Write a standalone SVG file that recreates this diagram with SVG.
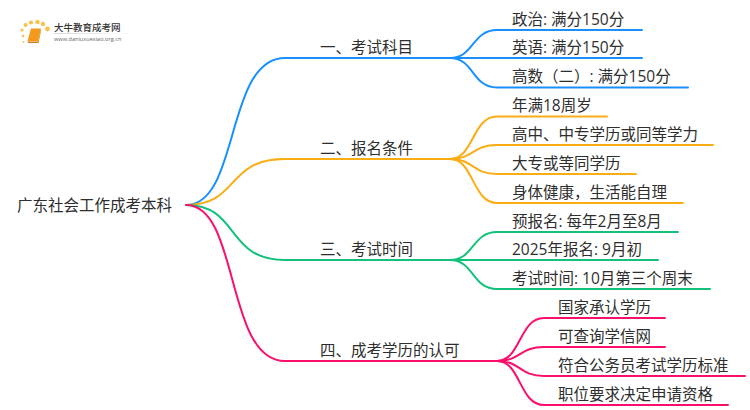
<svg xmlns="http://www.w3.org/2000/svg" width="750" height="410" viewBox="0 0 750 410">
<defs><linearGradient id="fade"><stop offset="0" stop-color="#ccc"/><stop offset="1" stop-color="#fff"/></linearGradient></defs>
<style>
text{font-family:"Open Sans","Noto Sans CJK SC",sans-serif;font-size:15.5px;fill:#2e2e2e}
.c{fill:none;stroke-width:2;stroke-linecap:round}
.b{stroke:#1890ff}.o{stroke:#faad14}.g{stroke:#13c27a}.r{stroke:#fa0f6c}
</style>
<rect width="750" height="410" fill="#fff"/>
<g id="logo">
<g fill="#fbc04a"><circle cx="23" cy="36" r="1.300"/><circle cx="22" cy="30" r="1.600"/><circle cx="25.500" cy="25" r="2"/><circle cx="31" cy="22.500" r="2.100"/><circle cx="37.500" cy="22" r="2.200"/><circle cx="43" cy="24" r="2.200"/><circle cx="47.500" cy="29" r="2.400"/><circle cx="23.500" cy="42" r="1"/></g>
<path d="M31 28.500H41L38 41H27.500Z" fill="#f39a1c"/><path d="M27.500 41.500H38L41 29V31L38.500 43H28Z" fill="#d9780f"/>
<rect x="54" y="33" width="80" height="0.800" fill="url(#fade)"/>
<text x="54" y="31" style="font-size:9.500px;fill:#333;font-weight:500">大牛教育成考网</text>
<text x="54" y="41" style="font-size:5.600px;fill:#666">www.daniuxuexiao.org.cn</text>
</g>
<g id="connectors">
<path class="c b" d="M186 205C240 205 225 58 285 58H450"/>
<path class="c o" d="M186 205C240 205 225 159 285 159H450"/>
<path class="c g" d="M186 205C240 205 225 260 285 260H450"/>
<path class="c r" d="M186 205C240 205 225 361 285 361H497"/>
<path class="c b" d="M450 58C474 58 472 30 497 30H642"/>
<path class="c b" d="M450 58H642"/>
<path class="c b" d="M450 58C474 58 472 87.500 497 87.500H688"/>
<path class="c o" d="M450 159C474 159 472 116.500 497 116.500H607"/>
<path class="c o" d="M450 159C474 159 472 145 497 145H713"/>
<path class="c o" d="M450 159C474 159 472 174 497 174H636"/>
<path class="c o" d="M450 159C474 159 472 203 497 203H683"/>
<path class="c g" d="M450 260C474 260 472 232 497 232H678"/>
<path class="c g" d="M450 260H658"/>
<path class="c g" d="M450 260C474 260 472 289 497 289H710"/>
<path class="c r" d="M497 361C521 361 519 318 544 318H665"/>
<path class="c r" d="M497 361C521 361 519 347 544 347H665"/>
<path class="c r" d="M497 361C521 361 519 376 544 376H745"/>
<path class="c r" d="M497 361C521 361 519 405 544 405H728"/>
</g>
<g id="root"><text x="17" y="211">广东社会工作成考本科</text></g>
<g id="b1"><text x="320" y="53">一、考试科目</text></g>
<g id="b2"><text x="320" y="154">二、报名条件</text></g>
<g id="b3"><text x="320" y="255">三、考试时间</text></g>
<g id="b4"><text x="320" y="356">四、成考学历的认可</text></g>
<g id="l1"><text x="512" y="25">政治: 满分150分</text></g>
<g id="l2"><text x="512" y="53">英语: 满分150分</text></g>
<g id="l3"><text x="512" y="82">高数（二）: 满分150分</text></g>
<g id="l4"><text x="512" y="111">年满18周岁</text></g>
<g id="l5"><text x="512" y="140">高中、中专学历或同等学力</text></g>
<g id="l6"><text x="512" y="169">大专或等同学历</text></g>
<g id="l7"><text x="512" y="198">身体健康，生活能自理</text></g>
<g id="l8"><text x="512" y="227">预报名: 每年2月至8月</text></g>
<g id="l9"><text x="512" y="255">2025年报名: 9月初</text></g>
<g id="l10"><text x="512" y="284">考试时间: 10月第三个周末</text></g>
<g id="l11"><text x="558" y="313">国家承认学历</text></g>
<g id="l12"><text x="558" y="342">可查询学信网</text></g>
<g id="l13"><text x="558" y="371">符合公务员考试学历标准</text></g>
<g id="l14"><text x="558" y="400">职位要求决定申请资格</text></g>
</svg>
